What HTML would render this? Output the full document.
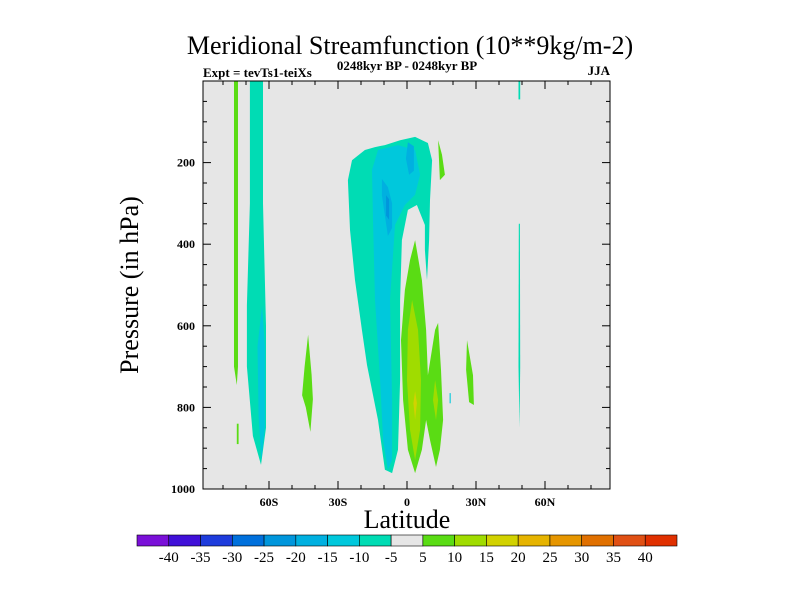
<!DOCTYPE html>
<html><head><meta charset="utf-8"><style>
body{margin:0;background:#fff;}
svg text{font-family:"Liberation Serif",serif;fill:#000;}
</style></head><body>
<svg id="chart" width="800" height="600" viewBox="0 0 800 600">
<text x="410" y="54" font-size="26" text-anchor="middle">Meridional Streamfunction (10**9kg/m-2)</text>
<text x="203" y="77" font-size="13" font-weight="bold">Expt = tevTs1-teiXs</text>
<text x="407" y="70" font-size="13" font-weight="bold" text-anchor="middle">0248kyr BP - 0248kyr BP</text>
<text x="610" y="75" font-size="13" font-weight="bold" text-anchor="end">JJA</text>
<text x="407" y="528" font-size="26" text-anchor="middle">Latitude</text>
<text transform="translate(138,285) rotate(-90)" font-size="26" text-anchor="middle">Pressure (in hPa)</text>
<rect x="203" y="81" width="407" height="408" fill="#e6e6e6"/>
<g id="marks"></g>
<rect x="203" y="81" width="407" height="408" fill="none" stroke="#000" stroke-width="1"/>
<g id="axes"></g>
<g id="cbar"></g>
</svg>
<script>
const colorLevels=["#7a10d8","#4010d8","#1e3cdc","#0070dc","#0096dc","#00b0e0","#00c8dc","#00dcb4","#e6e6e6","#5adc14","#a0dc00","#d2d200","#e6b400","#e69600","#e07000","#e05014","#e03000"];
const cbarLabels=["-40","-35","-30","-25","-20","-15","-10","-5","5","10","15","20","25","30","35","40"];
const xTickLats=[-60,-30,0,30,60];
const xTickLabels=["60S","30S","0","30N","60N"];
const yTickPs=[200,400,600,800,1000];
// contour regions: level index into colorLevels, outline in [lat, pressure]
const regionLevels=[9,9,7,6,9,7,6,5,5,4,9,10,10,11,9,9,6,7,7];
const regionShapes=[
[[-75.2,0],[-73.5,0],[-73.5,700],[-74,745],[-75.2,700]],
[[-74,840],[-73.2,840],[-73.2,890],[-74,890]],
[[-68.3,0],[-62.6,0],[-62.6,300],[-61.3,600],[-61.3,850],[-63.5,941],[-67,870],[-69.6,700],[-69.6,550],[-68.3,300]],
[[-63,550],[-61.8,650],[-61.8,850],[-63.3,930],[-64.5,820],[-65,650]],
[[-43,622],[-41.5,720],[-40.9,780],[-42,860],[-44,800],[-45.6,770],[-44.5,700]],
[[-25.7,243],[-23.9,194],[-18.3,169],[-13.9,162],[-9.6,157],[-3,145],[3.5,137],[9.1,152],[10.9,194],[10,292],[9.6,390],[8.7,488],[7.8,414],[7.8,353],[4.3,304],[0.4,316],[-2.2,390],[-3,537],[-3,733],[-3.9,904],[-6.5,961],[-9.6,953],[-12.6,831],[-17.4,696],[-19.6,610],[-22.6,488],[-24.8,365]],
[[-12.6,169],[-3.9,157],[3.5,169],[5.7,230],[3.5,279],[-0.9,304],[-5.2,353],[-7.4,537],[-6.5,782],[-6.5,929],[-8.3,953],[-10.4,880],[-11.7,733],[-13.9,537],[-14.8,341],[-15.2,218]],
[[-10.9,240],[-8.3,260],[-6.5,300],[-6.5,360],[-8.3,380],[-9.6,330],[-10.9,280]],
[[0.4,150],[3,160],[3,220],[0.9,230],[-0.5,190]],
[[-9.1,280],[-7.8,290],[-7.8,340],[-9.1,330]],
[[3.5,390],[6.5,488],[8.3,610],[9.1,721],[12.2,610],[13.5,593],[14.8,708],[15.7,831],[14.3,904],[12.6,946],[10,880],[8.3,831],[6.5,904],[3.5,961],[0.4,904],[-1.7,782],[-2.6,635],[-0.9,512],[1.3,439]],
[[2.2,537],[4.8,610],[6.1,733],[5.7,855],[3.5,929],[1.3,855],[0,733],[0.4,610]],
[[12.2,733],[13.5,782],[12.6,831],[11.3,782]],
[[3.5,760],[4.3,790],[3.5,830],[2.8,790]],
[[13.5,145],[15.2,181],[16.5,230],[14.3,243]],
[[26.1,635],[28.7,721],[29.1,794],[27,787],[25.7,708]],
[[18.5,765],[19,765],[19,790],[18.5,790]],
[[48.5,0],[49.2,0],[49.2,45],[48.5,45]],
[[48.6,350],[49.1,350],[49.2,700],[48.9,850],[48.5,700]]
];
const NS="http://www.w3.org/2000/svg";
const xS=lat=>407+lat*2.3;
const yS=p=>81+p*0.408;
const marks=document.getElementById('marks');
regionShapes.forEach((sh,i)=>{
  const pg=document.createElementNS(NS,'polygon');
  pg.setAttribute('points',sh.map(q=>xS(q[0]).toFixed(1)+','+yS(q[1]).toFixed(1)).join(' '));
  pg.setAttribute('fill',colorLevels[regionLevels[i]]);
  
  
  marks.appendChild(pg);
});
const axes=document.getElementById('axes');
function line(x1,y1,x2,y2,name){
  const l=document.createElementNS(NS,'line');
  l.setAttribute('x1',x1);l.setAttribute('y1',y1);l.setAttribute('x2',x2);l.setAttribute('y2',y2);
  l.setAttribute('stroke','#000');l.setAttribute('stroke-width','1');
  
  
  axes.appendChild(l);
}
function text(x,y,s,anchor,size,bold,name,parent){
  const t=document.createElementNS(NS,'text');
  t.setAttribute('x',x);t.setAttribute('y',y);t.setAttribute('text-anchor',anchor);t.setAttribute('font-size',size);
  if(bold)t.setAttribute('font-weight','bold');
  t.textContent=s;
  
  
  parent.appendChild(t);
}
for(let lat=-80;lat<=80;lat+=10){
  const major=lat%30===0;
  const x=xS(lat);
  line(x,489,x,489-(major?8:4),'x-tick');
  line(x,81,x,81+(major?8:4),'x-tick-top');
}
xTickLats.forEach((lat,i)=>text(xS(lat),506,xTickLabels[i],'middle',12,true,'x-tick-label',axes));
for(let p=50;p<=1000;p+=50){
  const major=p%200===0;
  const y=yS(p);
  line(203,y,203+(major?8:4),y,'y-tick');
  line(610,y,610-(major?8:4),y,'y-tick-right');
}
yTickPs.forEach(p=>text(195,yS(p)+4,String(p),'end',12,true,'y-tick-label',axes));
const cb=document.getElementById('cbar');
colorLevels.forEach((c,i)=>{
  const r=document.createElementNS(NS,'rect');
  const w=540/colorLevels.length;
  r.setAttribute('x',137+i*w);r.setAttribute('y',535);r.setAttribute('width',w);r.setAttribute('height',11);
  r.setAttribute('fill',c);r.setAttribute('stroke','#000');r.setAttribute('stroke-width','0.6');
  
  
  cb.appendChild(r);
});
cbarLabels.forEach((s,i)=>text(137+(i+1)*540/colorLevels.length,562,s,'middle',15,false,'colorbar-label',cb));
</script>
</body></html>
